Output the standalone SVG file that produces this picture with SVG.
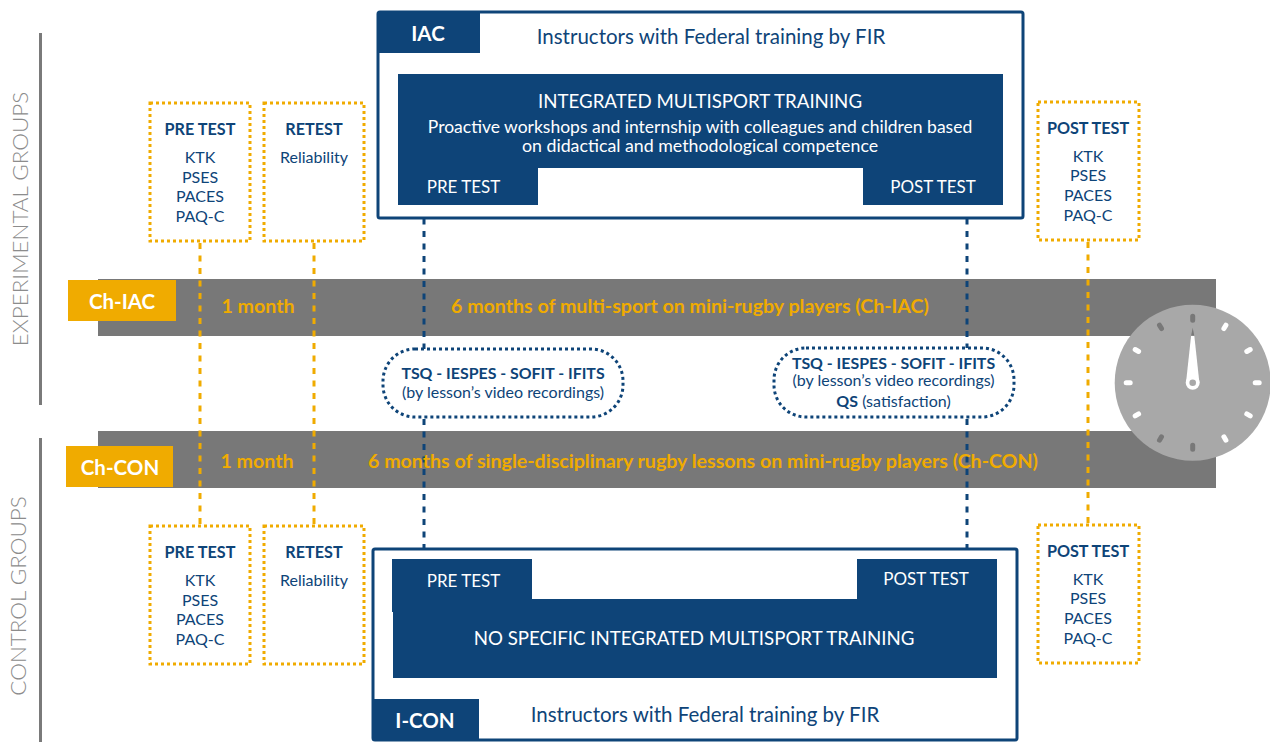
<svg xmlns="http://www.w3.org/2000/svg" width="1270" height="742" viewBox="0 0 1270 742">
<style>
text{font-family:"Lato","Noto Sans","Liberation Sans",sans-serif;text-anchor:middle}
.b{fill:#0e4478}.n{fill:#0e4478;font-size:16px}.h{fill:#0e4478;font-size:16.2px;font-weight:700}
.t{fill:#0e4478;font-size:15.9px;font-weight:700}.s{fill:#0e4478;font-size:16px}
.in{fill:#0e4478;font-size:20.5px}
.w{fill:#fff;font-size:17px}.w2{fill:#fff;font-size:17.8px}.w1{fill:#fff;font-size:17.5px}.w3{fill:#fff;font-size:18.7px}
.g{fill:#f0ab00;font-size:19.6px;font-weight:700}
.l{fill:#fff;font-size:20.5px;font-weight:700}
.sd{fill:none;stroke:#f0ab00;stroke-width:3;stroke-dasharray:3 3}
.cy{fill:none;stroke:#f0ab00;stroke-width:3;stroke-dasharray:6 6.5}
.cb{fill:none;stroke:#0e4478;stroke-width:3;stroke-dasharray:6 6.5}
.bx{fill:#fff;stroke:#0e4478;stroke-width:3}
.ds{fill:#fff;stroke:#0e4478;stroke-width:3;stroke-dasharray:3 3}
.side{fill:#8c8c8c;font-size:22.4px;font-weight:300}
.tw{stroke:#fff;stroke-width:5;stroke-linecap:round}.td{stroke:#787878;stroke-width:5;stroke-linecap:round}
</style>
<g id="side-labels">
<rect x="39" y="33" width="3" height="372" fill="#7a7a7a"/>
<rect x="39" y="438" width="3" height="304" fill="#7a7a7a"/>
<text class="side" transform="translate(28,219) rotate(-90)">EXPERIMENTAL GROUPS</text>
<text class="side" transform="translate(26,596) rotate(-90)">CONTROL GROUPS</text>
</g>
<g id="bars">
<rect x="98" y="279" width="1118" height="57" fill="#787878"/>
<rect x="98" y="431" width="1118" height="57" fill="#787878"/>
</g>
<g id="connectors">
<path class="cy" d="M200 243V526M314 243V526M1088 242V526"/>
<path class="cb" d="M424 206V350M967 206V350M424 419V560M967 419V560"/>
</g>
<g id="bar-labels">
<text class="g" x="258" y="313">1 month</text>
<text class="g" x="690" y="313">6 months of multi-sport on mini-rugby players (Ch-IAC)</text>
<text class="g" x="257" y="468">1 month</text>
<text class="g" x="703" y="468">6 months of single-disciplinary rugby lessons on mini-rugby players (Ch-CON)</text>
</g>
<g id="ch-iac"><rect x="68" y="280" width="108" height="41" fill="#f0ab00"/><text class="l" x="122" y="309">Ch-IAC</text></g>
<g id="ch-con"><rect x="66" y="446" width="107" height="41" fill="#f0ab00"/><text class="l" x="120" y="475">Ch-CON</text></g>
<g id="iac">
<rect class="bx" x="378" y="12" width="645" height="206" rx="2"/>
<rect class="b" x="377" y="12" width="103" height="41"/>
<text class="l" x="428" y="41">IAC</text>
<text class="in" x="711" y="44">Instructors with Federal training by FIR</text>
<path class="b" d="M398 74H1003V205H863V168H538V205H398Z"/>
<text class="w3" x="700" y="108">INTEGRATED MULTISPORT TRAINING</text>
<text class="w1" x="700" y="133">Proactive workshops and internship with colleagues and children based</text>
<text class="w2" x="700" y="152">on didactical and methodological competence</text>
<text class="w" x="463.500" y="193">PRE TEST</text>
<text class="w" x="933" y="193">POST TEST</text>
</g>
<g id="i-con">
<rect class="bx" x="373" y="549" width="644" height="191" rx="2"/>
<path class="b" d="M392 559H532V599H857V559H997V678H393V612H392Z"/>
<rect class="b" x="372" y="699" width="107" height="41"/>
<text class="l" x="425" y="728">I-CON</text>
<text class="in" x="705" y="722">Instructors with Federal training by FIR</text>
<text class="w" x="463.500" y="587">PRE TEST</text>
<text class="w" x="926" y="585">POST TEST</text>
<text class="w3" x="694" y="645">NO SPECIFIC INTEGRATED MULTISPORT TRAINING</text>
</g>
<g id="pre-top"><rect class="sd" x="150" y="103" width="100" height="138"/><text class="h" x="200" y="135">PRE TEST</text><text class="n" x="200" y="163">KTK</text><text class="n" x="200" y="183">PSES</text><text class="n" x="200" y="202">PACES</text><text class="n" x="200" y="222">PAQ-C</text></g>
<g id="retest-top"><rect class="sd" x="264" y="103" width="100" height="138"/><text class="h" x="314" y="135">RETEST</text><text class="n" x="314" y="163">Reliability</text></g>
<g id="post-top"><rect class="sd" x="1038" y="102" width="101" height="138"/><text class="h" x="1088" y="134">POST TEST</text><text class="n" x="1088" y="162">KTK</text><text class="n" x="1088" y="181">PSES</text><text class="n" x="1088" y="201">PACES</text><text class="n" x="1088" y="221">PAQ-C</text></g>
<g id="pre-bot"><rect class="sd" x="150" y="526" width="100" height="138"/><text class="h" x="200" y="558">PRE TEST</text><text class="n" x="200" y="586">KTK</text><text class="n" x="200" y="606">PSES</text><text class="n" x="200" y="625">PACES</text><text class="n" x="200" y="645">PAQ-C</text></g>
<g id="retest-bot"><rect class="sd" x="264" y="526" width="100" height="138"/><text class="h" x="314" y="558">RETEST</text><text class="n" x="314" y="586">Reliability</text></g>
<g id="post-bot"><rect class="sd" x="1038" y="525" width="101" height="138"/><text class="h" x="1088" y="557">POST TEST</text><text class="n" x="1088" y="585">KTK</text><text class="n" x="1088" y="604">PSES</text><text class="n" x="1088" y="624">PACES</text><text class="n" x="1088" y="644">PAQ-C</text></g>
<g id="tsq-1"><rect class="ds" x="383" y="349" width="240" height="68" rx="32"/><text class="t" x="503" y="379">TSQ - IESPES - SOFIT - IFITS</text><text class="s" x="503" y="398">(by lesson’s video recordings)</text></g>
<g id="tsq-2"><rect class="ds" x="774" y="348" width="240" height="69" rx="32"/><text class="t" x="893.500" y="369">TSQ - IESPES - SOFIT - IFITS</text><text class="s" x="893.500" y="386">(by lesson’s video recordings)</text><text class="s" x="893.500" y="407"><tspan font-weight="700">QS</tspan> (satisfaction)</text></g>
<g id="clock">
<circle cx="1192.7" cy="382.7" r="78" fill="#a8a8a8"/>
<g transform="translate(1192.7 382.7)">
<path class="tw" d="M33.200 -57.500L31.200 -54.100M57.500 -33.200L54.100 -31.200M66.500 0H62.500M57.500 33.200L54.100 31.200M33.200 57.500L31.200 54.100M-57.500 33.200L-54.100 31.200M-66.500 0H-62.500M-57.500 -33.200L-54.100 -31.200"/>
<path class="td" d="M0 -66.500V-62.500M0 66.500V62.500M-33.200 -57.500L-31.200 -54.100M-33.200 57.500L-31.200 54.100"/>
<path d="M-6.700 0L-1.600 -47H1.600L6.700 0Z" fill="#fff"/>
<circle r="7" fill="#fff"/>
<path d="M-1.600 -47L0 -55L1.600 -47Z" fill="#787878"/>
<circle r="3.300" fill="#a8a8a8"/>
</g>
</g>
</svg>
